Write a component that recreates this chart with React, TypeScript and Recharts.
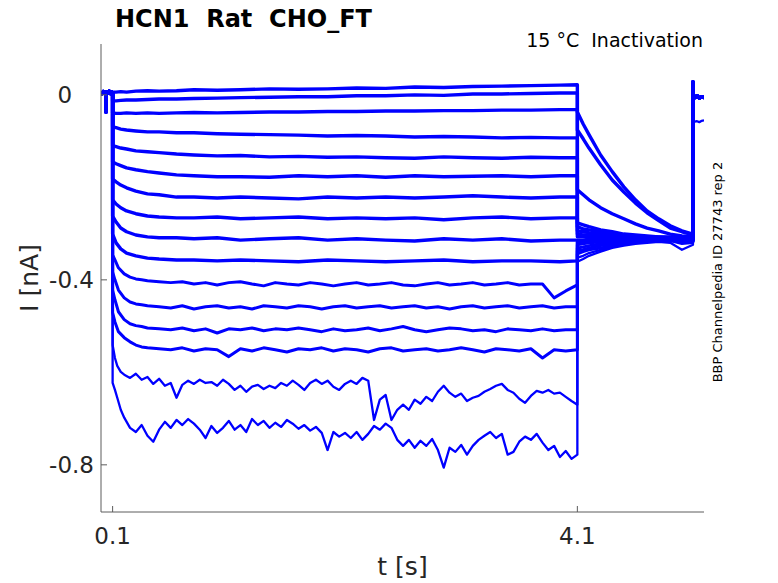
import { Line, LineChart, XAxis, YAxis } from "recharts";

const FONT = "'DejaVu Sans', sans-serif";
const BLUE = "#0000ff";
const AXIS = "#5c5c5c";
const INK = "#262626";

const xTicks = [0.1, 4.1];
const xTickLabels = ["0.1", "4.1"];
const yTicks = [-0.8, -0.4, 0];
const yTickLabels = ["-0.8", "-0.4", "0   "];

// holding level before the step, shared by all sweeps
const preTimes = [0, 0.01, 0.02, 0.03, 0.04, 0.043, 0.046, 0.05, 0.06, 0.07, 0.08, 0.09, 0.1];
const preCurrent = [0.006, 0.003, 0.007, 0.004, 0.006, -0.037, 0.002, 0.007, 0.004, 0.008, 0.003, 0.006, 0.005];

// sample times during the 4 s prepulse
const quietTimes = [0.1, 0.13, 0.17, 0.22, 0.3, 0.4, 0.5, 0.65, 0.8, 1.0, 1.2, 1.45, 1.7, 1.95, 2.2, 2.45, 2.7, 2.95, 3.2, 3.45, 3.7, 3.95, 4.1];
const mediumTimes = [
  0.1, 0.12, 0.15, 0.2, 0.25, 0.3, 0.35, 0.4,
  0.5, 0.6, 0.7, 0.8, 0.9, 1.0, 1.1, 1.2, 1.3, 1.4,
  1.5, 1.6, 1.7, 1.8, 1.9, 2.0, 2.1, 2.2, 2.3, 2.4,
  2.5, 2.6, 2.7, 2.8, 2.9, 3.0, 3.1, 3.2, 3.3, 3.4,
  3.5, 3.6, 3.7, 3.8, 3.9, 4.0, 4.1,
];
const noisyTimes = [
  0.1, 0.12, 0.14, 0.17, 0.2, 0.25, 0.3, 0.35, 0.4, 0.45,
  0.5, 0.55, 0.6, 0.65, 0.7, 0.75, 0.8, 0.85, 0.9, 0.95,
  1.0, 1.05, 1.1, 1.15, 1.2, 1.25, 1.3, 1.35, 1.4, 1.45,
  1.5, 1.55, 1.6, 1.65, 1.7, 1.75, 1.8, 1.85, 1.9, 1.95,
  2.0, 2.05, 2.1, 2.15, 2.2, 2.25, 2.3, 2.35, 2.4, 2.45,
  2.5, 2.55, 2.6, 2.65, 2.7, 2.75, 2.8, 2.85, 2.9, 2.95,
  3.0, 3.05, 3.1, 3.15, 3.2, 3.25, 3.3, 3.35, 3.4, 3.45,
  3.5, 3.55, 3.6, 3.65, 3.7, 3.75, 3.8, 3.85, 3.9, 3.95,
  4.0, 4.05, 4.1,
];

// test pulse and return to holding
const tailTimes = [4.1, 4.15, 4.2, 4.3, 4.4, 4.5, 4.6, 4.7, 4.8, 4.9, 5.0, 5.095];
const postTimes = [5.095, 5.097, 5.11, 5.13, 5.15, 5.17, 5.19];
const postCurrent = [0.028, -0.003, -0.006, -0.002, -0.007, -0.004, -0.006];
const postCurrentLow = [-0.055, -0.06, -0.058, -0.057, -0.059, -0.056, -0.055];

// prepulse currents [nA]
const step01 = [0.006, 0.006, 0.007, 0.006, 0.008, 0.009, 0.008, 0.009, 0.011, 0.01, 0.011, 0.013, 0.012, 0.013, 0.015, 0.014, 0.017, 0.016, 0.018, 0.019, 0.02, 0.021, 0.022];
const step02 = [-0.013, -0.013, -0.012, -0.011, -0.011, -0.01, -0.009, -0.009, -0.008, -0.007, -0.006, -0.005, -0.004, -0.004, -0.002, -0.002, 0.0, -0.001, 0.002, 0.002, 0.003, 0.004, 0.004];
const step03 = [-0.039, -0.04, -0.04, -0.039, -0.04, -0.039, -0.04, -0.039, -0.038, -0.039, -0.038, -0.037, -0.037, -0.036, -0.036, -0.035, -0.035, -0.034, -0.034, -0.033, -0.033, -0.032, -0.032];
const step04 = [-0.069, -0.071, -0.074, -0.076, -0.078, -0.08, -0.08, -0.082, -0.082, -0.084, -0.085, -0.086, -0.087, -0.089, -0.088, -0.089, -0.091, -0.09, -0.091, -0.093, -0.092, -0.093, -0.093];
const step05 = [-0.11, -0.112, -0.115, -0.117, -0.121, -0.123, -0.125, -0.128, -0.13, -0.132, -0.131, -0.134, -0.133, -0.135, -0.134, -0.136, -0.137, -0.134, -0.136, -0.137, -0.135, -0.136, -0.136];
const step06 = [-0.145, -0.149, -0.153, -0.158, -0.162, -0.166, -0.169, -0.173, -0.175, -0.177, -0.177, -0.178, -0.175, -0.177, -0.175, -0.178, -0.175, -0.177, -0.176, -0.175, -0.177, -0.175, -0.175];
const step07 = [-0.182, -0.188, -0.195, -0.201, -0.208, -0.214, -0.216, -0.221, -0.221, -0.223, -0.221, -0.223, -0.225, -0.221, -0.223, -0.221, -0.223, -0.221, -0.218, -0.221, -0.223, -0.221, -0.221];
const step08 = [-0.227, -0.236, -0.244, -0.251, -0.257, -0.262, -0.264, -0.266, -0.266, -0.264, -0.268, -0.266, -0.264, -0.268, -0.266, -0.268, -0.266, -0.27, -0.266, -0.264, -0.268, -0.266, -0.266];
const step09 = [-0.262, -0.275, -0.288, -0.296, -0.303, -0.307, -0.309, -0.309, -0.311, -0.309, -0.314, -0.311, -0.309, -0.314, -0.311, -0.314, -0.316, -0.311, -0.314, -0.311, -0.316, -0.314, -0.314];
const step10 = [-0.301, -0.32, -0.333, -0.342, -0.348, -0.353, -0.355, -0.357, -0.357, -0.359, -0.357, -0.359, -0.361, -0.357, -0.359, -0.361, -0.359, -0.357, -0.361, -0.359, -0.359, -0.361, -0.359];
const step11 = [
  -0.346, -0.357, -0.374, -0.387, -0.394, -0.398, -0.4, -0.402,
  -0.404, -0.406, -0.404, -0.409, -0.406, -0.411, -0.406, -0.404, -0.409, -0.413,
  -0.406, -0.409, -0.411, -0.406, -0.409, -0.413, -0.409, -0.406, -0.411, -0.409,
  -0.406, -0.411, -0.413, -0.409, -0.406, -0.411, -0.409, -0.406, -0.411, -0.409,
  -0.406, -0.411, -0.409, -0.409, -0.439, -0.424, -0.411,
];
const step12 = [
  -0.383, -0.4, -0.422, -0.439, -0.448, -0.452, -0.454, -0.456,
  -0.458, -0.461, -0.456, -0.463, -0.458, -0.456, -0.461, -0.458, -0.463, -0.456,
  -0.458, -0.461, -0.456, -0.458, -0.463, -0.458, -0.456, -0.461, -0.458, -0.456,
  -0.461, -0.458, -0.456, -0.461, -0.458, -0.463, -0.458, -0.456, -0.461, -0.458,
  -0.456, -0.461, -0.458, -0.456, -0.461, -0.458, -0.458,
];
const step13 = [
  -0.422, -0.443, -0.469, -0.486, -0.495, -0.499, -0.501, -0.504,
  -0.506, -0.508, -0.504, -0.51, -0.506, -0.515, -0.506, -0.508, -0.504, -0.51,
  -0.506, -0.508, -0.504, -0.508, -0.512, -0.506, -0.51, -0.508, -0.504, -0.51,
  -0.506, -0.501, -0.508, -0.512, -0.508, -0.504, -0.506, -0.51, -0.508, -0.512,
  -0.506, -0.508, -0.51, -0.506, -0.51, -0.508, -0.508,
];
const step14 = [
  -0.471, -0.491, -0.512, -0.525, -0.534, -0.541, -0.545, -0.547,
  -0.549, -0.551, -0.547, -0.554, -0.549, -0.551, -0.566, -0.549, -0.554, -0.547,
  -0.551, -0.556, -0.549, -0.551, -0.547, -0.554, -0.549, -0.551, -0.556, -0.549,
  -0.547, -0.554, -0.551, -0.549, -0.554, -0.551, -0.547, -0.551, -0.556, -0.549,
  -0.551, -0.554, -0.549, -0.569, -0.551, -0.554, -0.551,
];
const step15 = [
  -0.541, -0.569, -0.586, -0.599, -0.605, -0.612, -0.603, -0.616, -0.61, -0.625,
  -0.614, -0.629, -0.623, -0.655, -0.627, -0.618, -0.625, -0.616, -0.623, -0.621,
  -0.629, -0.616, -0.625, -0.638, -0.629, -0.642, -0.631, -0.627, -0.636, -0.629,
  -0.634, -0.623, -0.629, -0.618, -0.627, -0.638, -0.623, -0.616, -0.625, -0.618,
  -0.631, -0.638, -0.625, -0.618, -0.625, -0.612, -0.618, -0.703, -0.659, -0.649,
  -0.703, -0.681, -0.67, -0.681, -0.659, -0.668, -0.653, -0.662, -0.642, -0.629,
  -0.644, -0.653, -0.646, -0.662, -0.655, -0.651, -0.642, -0.636, -0.629, -0.625,
  -0.638, -0.644, -0.657, -0.666, -0.651, -0.64, -0.644, -0.638, -0.646, -0.644,
  -0.653, -0.662, -0.67,
];
const step16 = [
  -0.623, -0.638, -0.655, -0.681, -0.698, -0.72, -0.729, -0.714, -0.737, -0.75,
  -0.724, -0.707, -0.72, -0.703, -0.714, -0.701, -0.711, -0.724, -0.742, -0.716,
  -0.731, -0.72, -0.705, -0.724, -0.714, -0.729, -0.701, -0.714, -0.705, -0.72,
  -0.709, -0.718, -0.703, -0.711, -0.722, -0.714, -0.726, -0.718, -0.731, -0.768,
  -0.729, -0.739, -0.731, -0.742, -0.729, -0.746, -0.733, -0.716, -0.724, -0.711,
  -0.72, -0.746, -0.759, -0.746, -0.763, -0.748, -0.759, -0.744, -0.768, -0.806,
  -0.763, -0.772, -0.757, -0.778, -0.759, -0.746, -0.737, -0.729, -0.742, -0.733,
  -0.778, -0.772, -0.75, -0.739, -0.746, -0.733, -0.752, -0.768, -0.759, -0.783,
  -0.77, -0.787, -0.778,
];

// test pulse currents [nA]
const tail01 = [-0.037, -0.063, -0.086, -0.13, -0.166, -0.199, -0.227, -0.251, -0.268, -0.283, -0.294, -0.301];
const tail02 = [-0.076, -0.095, -0.115, -0.151, -0.184, -0.21, -0.234, -0.255, -0.272, -0.288, -0.296, -0.303];
const tail03 = [-0.205, -0.216, -0.227, -0.244, -0.257, -0.268, -0.279, -0.288, -0.294, -0.301, -0.305, -0.307];
const tail04 = [-0.277, -0.281, -0.285, -0.292, -0.296, -0.301, -0.303, -0.305, -0.307, -0.307, -0.309, -0.309];
const tail05 = [-0.285, -0.29, -0.292, -0.296, -0.301, -0.303, -0.305, -0.307, -0.307, -0.309, -0.307, -0.309];
const tail06 = [-0.294, -0.296, -0.298, -0.301, -0.303, -0.305, -0.307, -0.307, -0.309, -0.309, -0.309, -0.311];
const tail07 = [-0.301, -0.303, -0.303, -0.305, -0.307, -0.307, -0.309, -0.309, -0.309, -0.311, -0.311, -0.309];
const tail08 = [-0.307, -0.307, -0.309, -0.309, -0.309, -0.311, -0.309, -0.311, -0.309, -0.311, -0.314, -0.311];
const tail09 = [-0.314, -0.314, -0.314, -0.314, -0.311, -0.314, -0.311, -0.311, -0.314, -0.311, -0.314, -0.314];
const tail10 = [-0.318, -0.318, -0.316, -0.316, -0.314, -0.314, -0.314, -0.311, -0.314, -0.314, -0.316, -0.314];
const tail11 = [-0.324, -0.322, -0.32, -0.318, -0.316, -0.316, -0.314, -0.314, -0.311, -0.314, -0.316, -0.314];
const tail12 = [-0.331, -0.329, -0.326, -0.322, -0.32, -0.318, -0.316, -0.314, -0.314, -0.316, -0.314, -0.316];
const tail13 = [-0.337, -0.335, -0.331, -0.326, -0.322, -0.32, -0.318, -0.316, -0.314, -0.314, -0.318, -0.316];
const tail14 = [-0.344, -0.339, -0.335, -0.331, -0.326, -0.322, -0.318, -0.316, -0.316, -0.314, -0.316, -0.318];
const tail15 = [-0.352, -0.348, -0.342, -0.335, -0.329, -0.324, -0.32, -0.318, -0.316, -0.316, -0.322, -0.32];
const tail16 = [-0.361, -0.355, -0.348, -0.339, -0.331, -0.326, -0.322, -0.32, -0.318, -0.32, -0.335, -0.324];

type Sweep = { times: number[]; step: number[]; tail: number[]; post: number[]; width: number };

const sweeps: Sweep[] = [
  { times: quietTimes, step: step01, tail: tail01, post: postCurrent, width: 3.4 },
  { times: quietTimes, step: step02, tail: tail02, post: postCurrent, width: 3.4 },
  { times: quietTimes, step: step03, tail: tail03, post: postCurrent, width: 3.4 },
  { times: quietTimes, step: step04, tail: tail04, post: postCurrent, width: 3.4 },
  { times: quietTimes, step: step05, tail: tail05, post: postCurrent, width: 3.4 },
  { times: quietTimes, step: step06, tail: tail06, post: postCurrent, width: 3.4 },
  { times: quietTimes, step: step07, tail: tail07, post: postCurrent, width: 3.4 },
  { times: quietTimes, step: step08, tail: tail08, post: postCurrent, width: 3.4 },
  { times: quietTimes, step: step09, tail: tail09, post: postCurrent, width: 3.4 },
  { times: quietTimes, step: step10, tail: tail10, post: postCurrent, width: 3.4 },
  { times: mediumTimes, step: step11, tail: tail11, post: postCurrent, width: 3 },
  { times: mediumTimes, step: step12, tail: tail12, post: postCurrent, width: 3 },
  { times: mediumTimes, step: step13, tail: tail13, post: postCurrent, width: 3 },
  { times: mediumTimes, step: step14, tail: tail14, post: postCurrent, width: 3 },
  { times: noisyTimes, step: step15, tail: tail15, post: postCurrent, width: 2.3 },
  { times: noisyTimes, step: step16, tail: tail16, post: postCurrentLow, width: 2.3 },
];

function toPoints(times: number[], values: number[]) {
  return times.map((t, k) => ({ t, i: values[k] }));
}

const sweepPoints = sweeps.map((s) => [
  ...toPoints(preTimes, preCurrent),
  ...toPoints(s.times, s.step),
  ...toPoints(tailTimes, s.tail),
  ...toPoints(postTimes, s.post),
]);

function XTick({ x, y, payload }: any) {
  const label = xTickLabels[xTicks.indexOf(payload.value)];
  return (
    <text x={x} y={y} dy="0.71em" textAnchor="middle" fontSize={23} fontFamily={FONT} fill={INK}>
      {label}
    </text>
  );
}

function YTick({ x, y, payload }: any) {
  const label = yTickLabels[yTicks.indexOf(payload.value)];
  return (
    <text
      x={x}
      y={y}
      dy="0.355em"
      textAnchor="end"
      fontSize={23}
      fontFamily={FONT}
      fill={INK}
      style={{ whiteSpace: "pre" }}
    >
      {label}
    </text>
  );
}

export default function App() {
  return (
    <div style={{ position: "absolute", left: 0, top: 0, width: 778, height: 583, background: "#fff" }}>
      <LineChart width={778} height={583} margin={{ top: 44, right: 74, bottom: 31, left: 41 }}>
        <XAxis
          type="number"
          dataKey="t"
          domain={[0, 5.19]}
          ticks={xTicks}
          allowDataOverflow
          height={40}
          tickSize={-6}
          tickMargin={22}
          tick={<XTick />}
          axisLine={{ stroke: AXIS }}
          tickLine={{ stroke: AXIS }}
        />
        <YAxis
          type="number"
          domain={[-0.902, 0.11]}
          ticks={yTicks}
          allowDataOverflow
          width={60}
          tickSize={-6}
          tickMargin={13}
          tick={<YTick />}
          axisLine={{ stroke: AXIS }}
          tickLine={{ stroke: AXIS }}
        />
        {sweeps.map((s, k) => (
          <Line
            key={k}
            data={sweepPoints[k]}
            dataKey="i"
            type="linear"
            stroke={BLUE}
            strokeWidth={s.width}
            strokeLinejoin="round"
            dot={false}
            activeDot={false}
            isAnimationActive={false}
          />
        ))}
      </LineChart>
      <svg
        width={778}
        height={583}
        style={{ position: "absolute", left: 0, top: 0, pointerEvents: "none" }}
        fontFamily={FONT}
      >
        <text x={115} y={27} fontSize={24} fontWeight="bold" fill="#000" style={{ whiteSpace: "pre" }}>
          HCN1  Rat  CHO_FT
        </text>
        <text x={703} y={47} fontSize={19} textAnchor="end" fill="#000" style={{ whiteSpace: "pre" }}>
          15 °C  Inactivation
        </text>
        <text x={402.5} y={575} fontSize={25} textAnchor="middle" fill={INK}>
          t [s]
        </text>
        <text x={38} y={278} fontSize={25} textAnchor="middle" fill={INK} transform="rotate(-90 38 278)">
          I [nA]
        </text>
        <text x={722} y={272} fontSize={13} textAnchor="middle" fill="#000" transform="rotate(-90 722 272)">
          BBP Channelpedia ID 27743 rep 2
        </text>
      </svg>
    </div>
  );
}
